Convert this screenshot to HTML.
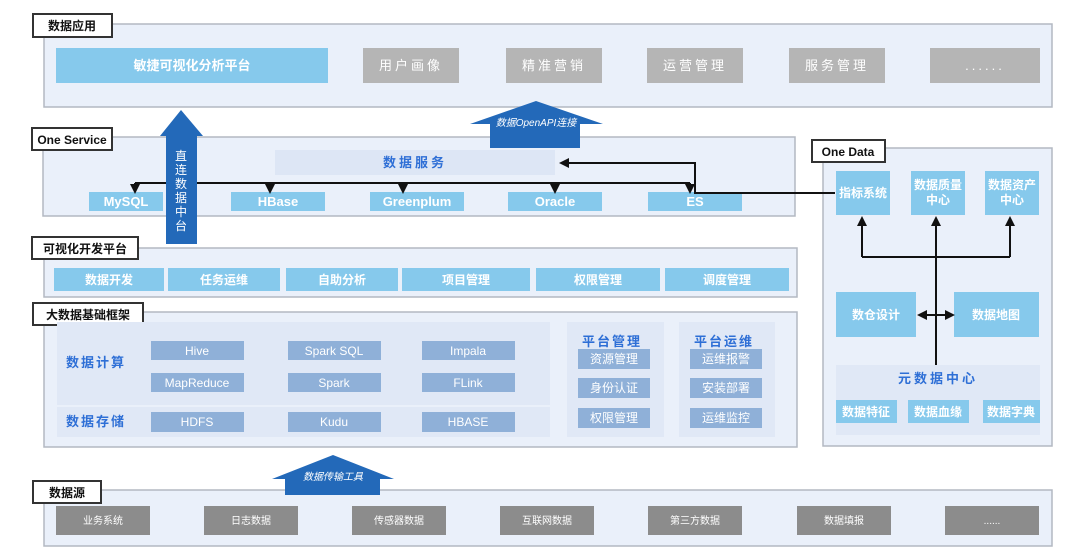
<!DOCTYPE html>
<html><head><meta charset="utf-8"><style>
body{margin:0;background:#fff}
svg{display:block}
text{font-family:"Liberation Sans","Noto Sans CJK SC",sans-serif}
</style></head><body>
<svg width="1080" height="550" viewBox="0 0 1080 550" xmlns="http://www.w3.org/2000/svg">
<defs>
<marker id="ah" markerWidth="5" markerHeight="5" refX="2.5" refY="2.5" orient="auto"><path d="M0,0 L5,2.5 L0,5 z" fill="#111"/></marker>
</defs>
<g stroke="#b3b8c2" stroke-width="1.5" fill="#eaf0fa">
<rect x="44" y="24" width="1008" height="83"/>
<rect x="43" y="137" width="752" height="79"/>
<rect x="44" y="248" width="753" height="49"/>
<rect x="44" y="312" width="753" height="135"/>
<rect x="44" y="490" width="1008" height="56"/>
<rect x="823" y="148" width="229" height="298"/>
</g>
<g fill="#fff" stroke="#333" stroke-width="2">
<rect x="33" y="14" width="79" height="23"/>
<rect x="32" y="128" width="80" height="22"/>
<rect x="32" y="237" width="106" height="22"/>
<rect x="33" y="303" width="110" height="22"/>
<rect x="33" y="481" width="68" height="22"/>
<rect x="812" y="140" width="73" height="22"/>
</g>
<g font-size="12" font-weight="bold" fill="#111">
<text x="72" y="30" text-anchor="middle">数据应用</text>
<text x="72" y="144" text-anchor="middle">One Service</text>
<text x="85" y="253" text-anchor="middle">可视化开发平台</text>
<text x="88" y="319" text-anchor="middle">大数据基础框架</text>
<text x="67" y="497" text-anchor="middle">数据源</text>
<text x="848" y="156" text-anchor="middle">One Data</text>
</g>
<rect x="56" y="48" width="272" height="35" fill="#86c9ec"/>
<text x="192" y="70" text-anchor="middle" fill="#fff" font-size="13" font-weight="bold">敏捷可视化分析平台</text>
<g fill="#b5b5b5">
<rect x="363" y="48" width="96" height="35"/><rect x="506" y="48" width="96" height="35"/><rect x="647" y="48" width="96" height="35"/><rect x="789" y="48" width="96" height="35"/><rect x="930" y="48" width="110" height="35"/>
</g>
<g fill="#fff" font-size="13" text-anchor="middle" letter-spacing="3">
<text x="411" y="70">用户画像</text><text x="554" y="70">精准营销</text><text x="695" y="70">运营管理</text><text x="837" y="70">服务管理</text><text x="985" y="70">......</text>
</g>
<path d="M470,124 L536,101 L603,124 L580,124 L580,148 L490,148 L490,124 Z" fill="#2369b9"/>
<text x="536" y="126" text-anchor="middle" fill="#fff" font-size="10" font-style="italic">数据OpenAPI连接</text>
<rect x="275" y="150" width="280" height="25" fill="#dde6f5"/>
<text x="415" y="167" text-anchor="middle" fill="#2e6fd6" font-size="13" font-weight="bold" letter-spacing="3">数据服务</text>
<g fill="#86c9ec">
<rect x="89" y="192" width="74" height="19"/><rect x="231" y="192" width="94" height="19"/><rect x="370" y="192" width="94" height="19"/><rect x="508" y="192" width="94" height="19"/><rect x="648" y="192" width="94" height="19"/>
</g>
<g fill="#fff" font-size="13" font-weight="bold" text-anchor="middle">
<text x="126" y="206">MySQL</text><text x="278" y="206">HBase</text><text x="417" y="206">Greenplum</text><text x="555" y="206">Oracle</text><text x="695" y="206">ES</text>
</g>
<g stroke="#111" stroke-width="2" fill="none">
<path d="M135,183 L690,183"/>
<path d="M135,183 L135,189" marker-end="url(#ah)"/>
<path d="M270,183 L270,189" marker-end="url(#ah)"/>
<path d="M403,183 L403,189" marker-end="url(#ah)"/>
<path d="M555,183 L555,189" marker-end="url(#ah)"/>
<path d="M690,183 L690,189" marker-end="url(#ah)"/>
<path d="M835,193 L695,193 L695,163 L564,163" marker-end="url(#ah)"/>
</g>
<path d="M160,136 L181,110 L203,136 L197,136 L197,244 L166,244 L166,136 Z" fill="#2369b9"/>
<g fill="#fff" font-size="12" text-anchor="middle">
<text x="181" y="160">直</text><text x="181" y="174">连</text><text x="181" y="188">数</text><text x="181" y="202">据</text><text x="181" y="216">中</text><text x="181" y="230">台</text>
</g>
<g fill="#86c9ec">
<rect x="54" y="268" width="110" height="23"/><rect x="168" y="268" width="112" height="23"/><rect x="286" y="268" width="112" height="23"/><rect x="402" y="268" width="128" height="23"/><rect x="536" y="268" width="124" height="23"/><rect x="665" y="268" width="124" height="23"/>
</g>
<g fill="#fff" font-size="12" font-weight="bold" text-anchor="middle">
<text x="109" y="284">数据开发</text><text x="224" y="284">任务运维</text><text x="342" y="284">自助分析</text><text x="466" y="284">项目管理</text><text x="598" y="284">权限管理</text><text x="727" y="284">调度管理</text>
</g>
<g fill="#e0e8f6">
<rect x="57" y="322" width="493" height="83"/><rect x="57" y="407" width="493" height="30"/>
<rect x="567" y="322" width="97" height="115"/><rect x="679" y="322" width="96" height="115"/>
</g>
<g fill="#2e6fd6" font-size="13" font-weight="bold" letter-spacing="2">
<text x="66" y="367">数据计算</text><text x="66" y="426">数据存储</text>
<text x="582" y="346">平台管理</text><text x="694" y="346">平台运维</text>
</g>
<g fill="#8fb0d8">
<rect x="151" y="341" width="93" height="19"/><rect x="288" y="341" width="93" height="19"/><rect x="422" y="341" width="93" height="19"/>
<rect x="151" y="373" width="93" height="19"/><rect x="288" y="373" width="93" height="19"/><rect x="422" y="373" width="93" height="19"/>
<rect x="151" y="412" width="93" height="20"/><rect x="288" y="412" width="93" height="20"/><rect x="422" y="412" width="93" height="20"/>
<rect x="578" y="349" width="72" height="20"/><rect x="578" y="378" width="72" height="20"/><rect x="578" y="408" width="72" height="20"/>
<rect x="690" y="349" width="72" height="20"/><rect x="690" y="378" width="72" height="20"/><rect x="690" y="408" width="72" height="20"/>
</g>
<g fill="#fff" font-size="12" text-anchor="middle">
<text x="197" y="355">Hive</text><text x="334" y="355">Spark SQL</text><text x="468" y="355">Impala</text>
<text x="197" y="387">MapReduce</text><text x="334" y="387">Spark</text><text x="468" y="387">FLink</text>
<text x="197" y="426">HDFS</text><text x="334" y="426">Kudu</text><text x="468" y="426">HBASE</text>
<text x="614" y="363">资源管理</text><text x="614" y="392">身份认证</text><text x="614" y="422">权限管理</text>
<text x="726" y="363">运维报警</text><text x="726" y="392">安装部署</text><text x="726" y="422">运维监控</text>
</g>
<path d="M272,479 L333,455 L394,479 L380,479 L380,495 L285,495 L285,479 Z" fill="#2369b9"/>
<text x="333" y="480" text-anchor="middle" fill="#fff" font-size="10" font-style="italic">数据传输工具</text>
<g fill="#8c8c8c">
<rect x="56" y="506" width="94" height="29"/><rect x="204" y="506" width="94" height="29"/><rect x="352" y="506" width="94" height="29"/><rect x="500" y="506" width="94" height="29"/><rect x="648" y="506" width="94" height="29"/><rect x="797" y="506" width="94" height="29"/><rect x="945" y="506" width="94" height="29"/>
</g>
<g fill="#fff" font-size="10" text-anchor="middle">
<text x="103" y="524">业务系统</text><text x="251" y="524">日志数据</text><text x="399" y="524">传感器数据</text><text x="547" y="524">互联网数据</text><text x="695" y="524">第三方数据</text><text x="844" y="524">数据填报</text><text x="992" y="524">......</text>
</g>
<g fill="#86c9ec">
<rect x="836" y="171" width="54" height="44"/><rect x="911" y="171" width="54" height="44"/><rect x="985" y="171" width="54" height="44"/>
<rect x="836" y="292" width="80" height="45"/><rect x="954" y="292" width="85" height="45"/>
</g>
<g fill="#fff" font-size="12" font-weight="bold" text-anchor="middle">
<text x="863" y="197">指标系统</text>
<text x="938" y="189">数据质量</text><text x="938" y="204">中心</text>
<text x="1012" y="189">数据资产</text><text x="1012" y="204">中心</text>
<text x="876" y="319">数仓设计</text><text x="996" y="319">数据地图</text>
</g>
<rect x="836" y="365" width="204" height="70" fill="#e0e8f6"/>
<text x="938" y="383" text-anchor="middle" fill="#2e6fd6" font-size="13" font-weight="bold" letter-spacing="3">元数据中心</text>
<g fill="#86c9ec"><rect x="836" y="400" width="61" height="23"/><rect x="908" y="400" width="61" height="23"/><rect x="983" y="400" width="57" height="23"/></g>
<g fill="#fff" font-size="12" font-weight="bold" text-anchor="middle">
<text x="866" y="416">数据特征</text><text x="938" y="416">数据血缘</text><text x="1011" y="416">数据字典</text>
</g>
<g stroke="#111" stroke-width="2" fill="none">
<path d="M936,365 L936,221" marker-end="url(#ah)"/>
<path d="M862,257 L1010,257"/>
<path d="M862,257 L862,221" marker-end="url(#ah)"/>
<path d="M1010,257 L1010,221" marker-end="url(#ah)"/>
<path d="M936,315 L922,315" marker-end="url(#ah)"/>
<path d="M936,315 L950,315" marker-end="url(#ah)"/>
</g>
</svg>
</body></html>
